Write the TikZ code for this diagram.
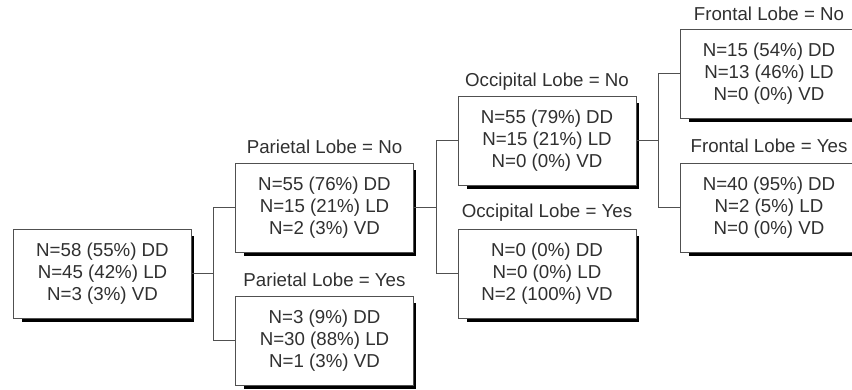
\documentclass[tikz,border=0pt]{standalone}
\usepackage{fontspec}
\setmainfont{Liberation Sans}
\usepackage{xcolor}
\usetikzlibrary{positioning, backgrounds}
\definecolor{inkgray}{HTML}{303030}
\definecolor{linegray}{HTML}{505050}
\tikzset{
    % Split node box
    leaf/.style={rectangle, draw=linegray, line width=1pt, fill=white,
                 minimum width=178pt, minimum height=89pt, inner sep=0pt,
                 align=center, text=inkgray,
                 font=\fontsize{18.7}{22}\selectfont},
    % Split condition label
    cond/.style={text=inkgray, inner sep=0pt, font=\fontsize{18.7}{22}\selectfont},
    % Connector
    branch/.style={draw=linegray, line width=1pt},
}
\begin{document}
\begin{tikzpicture}[x=1pt, y=-1pt]
    \useasboundingbox (0,0) rectangle (852,389);

    % Root
    \node[leaf] (root) at (102.5, 273.5) {N=58 (55\%) DD\\N=45 (42\%) LD\\N=3 (3\%) VD};

    % Parietal lobe split
    \node[cond] (parNoLab) at (324.5, 147) {Parietal Lobe = No};
    \node[leaf] (parNo) at (324.5, 207.5) {N=55 (76\%) DD\\N=15 (21\%) LD\\N=2 (3\%) VD};
    \node[cond] (parYesLab) at (324.5, 280) {Parietal Lobe = Yes};
    \node[leaf] (parYes) at (324.5, 340.5) {N=3 (9\%) DD\\N=30 (88\%) LD\\N=1 (3\%) VD};

    % Occipital lobe split
    \node[cond] (occNoLab) at (547, 82) {Occipital Lobe = No};
    \node[leaf] (occNo) at (547, 140.5) {N=55 (79\%) DD\\N=15 (21\%) LD\\N=0 (0\%) VD};
    \node[cond] (occYesLab) at (547, 213) {Occipital Lobe = Yes};
    \node[leaf] (occYes) at (547, 273.5) {N=0 (0\%) DD\\N=0 (0\%) LD\\N=2 (100\%) VD};

    % Frontal lobe split
    \node[cond] (froNoLab) at (769, 14) {Frontal Lobe = No};
    \node[leaf] (froNo) at (769, 73.5) {N=15 (54\%) DD\\N=13 (46\%) LD\\N=0 (0\%) VD};
    \node[cond] (froYesLab) at (769, 146) {Frontal Lobe = Yes};
    \node[leaf] (froYes) at (769, 207.5) {N=40 (95\%) DD\\N=2 (5\%) LD\\N=0 (0\%) VD};

    % Shadows
    \begin{scope}[on background layer]
        \foreach \n in {root, parNo, parYes, occNo, occYes, froNo, froYes}
            \fill[black] ([shift={(9pt,-3.5pt)}]\n.south west) rectangle ([shift={(2pt,-7pt)}]\n.north east);
    \end{scope}

    % Connectors
    \draw[branch] (root.east) -- ++(21pt,0) |- (parNo.west);
    \draw[branch] (root.east) -- ++(21pt,0) |- (parYes.west);
    \draw[branch] (parNo.east) -- ++(22pt,0) |- (occNo.west);
    \draw[branch] (parNo.east) -- ++(22pt,0) |- (occYes.west);
    \draw[branch] (occNo.east) -- ++(22pt,0) |- (froNo.west);
    \draw[branch] (occNo.east) -- ++(22pt,0) |- (froYes.west);
\end{tikzpicture}
\end{document}
